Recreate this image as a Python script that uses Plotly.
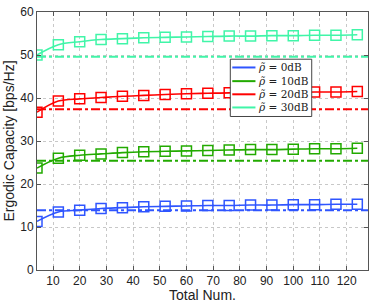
import plotly.graph_objects as go

x_vals = [4, 12, 20, 28, 36, 44, 52, 60, 68, 76, 84, 92, 100, 108, 116, 124]
cap_0db = [11.3, 13.5, 13.9, 14.3, 14.5, 14.7, 14.8, 14.9, 15.0, 15.0, 15.1, 15.1, 15.2, 15.2, 15.3, 15.3]
cap_10db = [23.7, 26.0, 26.7, 27.0, 27.3, 27.5, 27.6, 27.7, 27.8, 27.9, 28.0, 28.0, 28.1, 28.2, 28.2, 28.3]
cap_20db = [36.7, 39.3, 39.8, 40.1, 40.4, 40.6, 40.8, 41.0, 41.1, 41.2, 41.2, 41.3, 41.3, 41.4, 41.4, 41.5]
cap_30db = [50.0, 52.4, 53.1, 53.6, 53.8, 54.0, 54.1, 54.2, 54.3, 54.4, 54.4, 54.5, 54.5, 54.6, 54.6, 54.7]
bound_vals = [13.9, 25.4, 37.4, 49.6]
labels = ["0dB", "10dB", "20dB", "30dB"]
colors = ["#2f55ff", "#22aa00", "#ff0000", "#40f5a8"]
x_range = [4, 128]

fig = go.Figure()
series = [cap_0db, cap_10db, cap_20db, cap_30db]
for ys, lab, col, b in zip(series, labels, colors, bound_vals):
    fig.add_trace(go.Scatter(
        x=x_vals, y=ys, mode="lines+markers", line=dict(color=col, width=1.6, shape="spline"),
        marker=dict(symbol="square-open", size=10, color=col, line=dict(width=1.5, color=col)),
        name="ρ̃ = " + lab, showlegend=False))
    fig.add_trace(go.Scatter(
        x=x_range, y=[b, b], mode="lines", line=dict(color=col, width=2, dash="dashdot"),
        showlegend=False, hoverinfo="skip"))

# manual legend box (paper coordinates)
lg_x0, lg_x1, lg_top, lg_bot = 0.584, 0.830, 0.817, 0.595
fig.add_shape(type="rect", xref="paper", yref="paper", x0=lg_x0, x1=lg_x1, y0=lg_bot, y1=lg_top,
              line=dict(color="#444", width=1), fillcolor="white", layer="above")
row_y = [0.785, 0.732, 0.681, 0.630]
for lab, col, yy in zip(labels, colors, row_y):
    fig.add_shape(type="line", xref="paper", yref="paper", x0=0.590, x1=0.660, y0=yy, y1=yy,
                  line=dict(color=col, width=2), layer="above")
    fig.add_annotation(xref="paper", yref="paper", x=0.663, y=yy, xanchor="left", yanchor="middle",
                       text="<i>ρ̃</i> = " + lab, showarrow=False,
                       font=dict(family="DejaVu Serif, Liberation Serif", size=10.5, color="#222"))

axis_common = dict(showline=True, linecolor="#555", linewidth=1, mirror="allticks",
                   ticks="inside", ticklen=4, tickcolor="#555",
                   showgrid=True, gridcolor="#c8c8c8", griddash="dot", gridwidth=1,
                   zeroline=False, tickfont=dict(family="Liberation Sans, Arial", size=12, color="#222"))
fig.update_xaxes(range=x_range, tickvals=list(range(10, 130, 10)),
                 title=dict(text="Total Num.", font=dict(family="Liberation Sans, Arial", size=14, color="#222"), standoff=0),
                 **axis_common)
fig.update_yaxes(range=[0, 60], tickvals=list(range(0, 70, 10)),
                 title=dict(text="Ergodic Capacity [bps/Hz]", font=dict(family="Liberation Sans, Arial", size=14, color="#222"), standoff=2),
                 **axis_common)
fig.update_layout(
    width=374, height=303, margin=dict(l=37, r=5, t=8, b=33),
    paper_bgcolor="white", plot_bgcolor="white", showlegend=False,
)
fig.write_html("out.html", config={"displayModeBar": False},
               post_script="document.body.style.margin='0';document.body.style.overflow='hidden';")
